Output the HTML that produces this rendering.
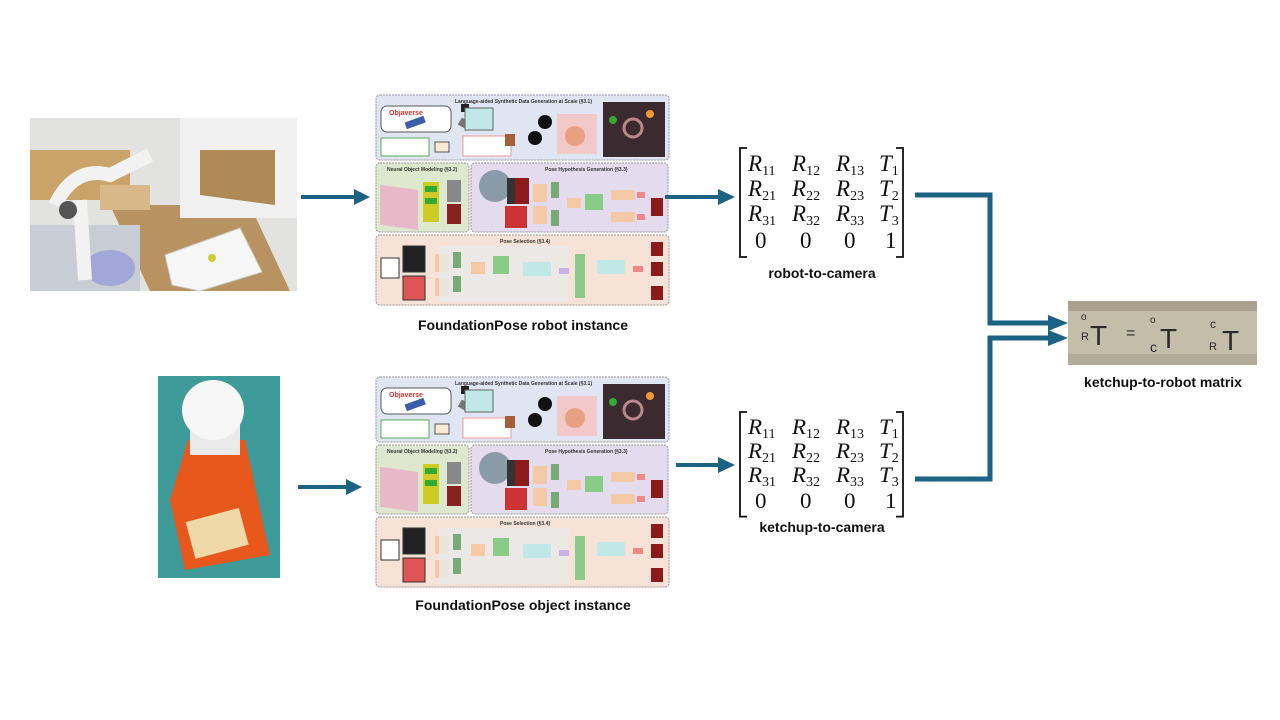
<!DOCTYPE html>
<html><head><meta charset="utf-8"><style>
html,body{margin:0;padding:0;background:#fff;width:1280px;height:720px;overflow:hidden}
svg{display:block}
.lbl{font-family:"Liberation Sans",sans-serif;font-weight:bold;font-size:14px;fill:#111}
.m{font-family:"Liberation Serif",serif;font-size:23px;fill:#111}
.i{font-style:italic}
.s{font-size:14px;font-style:normal}
.t{font-family:"Liberation Sans",sans-serif;font-size:5px;fill:#333;font-weight:bold}
.h{font-family:"Liberation Sans",sans-serif;fill:#2a2a2a}
</style></head><body>
<svg width="1280" height="720" viewBox="0 0 1280 720" xmlns="http://www.w3.org/2000/svg">
<defs>
<g id="diag">
  <rect x="0" y="0" width="295" height="212" fill="#fafafa"/>
  <rect x="1" y="1" width="293" height="65" rx="4" fill="#dfe5f3" stroke="#999" stroke-dasharray="2,1"/>
  <text class="t" x="80" y="9">Language-aided Synthetic Data Generation at Scale (§3.1)</text>
  <rect x="6" y="12" width="70" height="26" rx="6" fill="#fff" stroke="#555"/>
  <text x="14" y="21" font-family="Liberation Sans" font-size="7" font-weight="bold" fill="#d33">Objaverse</text>
  <rect x="30" y="25" width="20" height="7" fill="#3a5ea8" transform="rotate(-20 40 28)"/>
  <rect x="6" y="44" width="48" height="18" fill="#fff" stroke="#5a5"/>
  <rect x="60" y="48" width="14" height="10" fill="#fbe9d7" stroke="#555"/>
  <rect x="86" y="10" width="8" height="8" fill="#222"/>
  <rect x="84" y="26" width="12" height="8" fill="#777" transform="rotate(30 90 30)"/>
  <rect x="90" y="14" width="28" height="22" fill="#bfe8e6" stroke="#666"/>
  <rect x="88" y="42" width="48" height="20" fill="#fff" stroke="#e99"/>
  <rect x="130" y="40" width="10" height="12" fill="#a5603a"/>
  <circle cx="170" cy="28" r="7" fill="#111"/><circle cx="160" cy="44" r="7" fill="#111"/>
  <rect x="182" y="20" width="40" height="40" fill="#f2c8c8"/>
  <circle cx="200" cy="42" r="10" fill="#e9a080"/>
  <rect x="228" y="8" width="62" height="55" fill="#3b2a30"/>
  <circle cx="258" cy="34" r="9" fill="none" stroke="#b88" stroke-width="3"/>
  <circle cx="238" cy="26" r="4" fill="#3a3"/><circle cx="275" cy="20" r="4" fill="#e93"/>
  <rect x="1" y="69" width="93" height="69" rx="4" fill="#dde8cf" stroke="#999" stroke-dasharray="2,1"/>
  <text class="t" x="12" y="77">Neural Object Modeling (§3.2)</text>
  <rect x="5" y="90" width="38" height="40" fill="#e8b8c8" transform="skewY(8)"/>
  <rect x="48" y="88" width="16" height="40" fill="#cc2"/>
  <rect x="50" y="92" width="12" height="6" fill="#3a3"/><rect x="50" y="104" width="12" height="6" fill="#3a3"/>
  <rect x="72" y="86" width="14" height="22" fill="#888"/><rect x="72" y="110" width="14" height="20" fill="#822"/>
  <rect x="96" y="69" width="197" height="69" rx="4" fill="#e4dcee" stroke="#999" stroke-dasharray="2,1"/>
  <text class="t" x="170" y="77">Pose Hypothesis Generation (§3.3)</text>
  <circle cx="120" cy="92" r="16" fill="#8a9aa8"/>
  <rect x="132" y="84" width="18" height="26" fill="#333"/><rect x="140" y="84" width="14" height="26" fill="#8b1a1a"/>
  <rect x="130" y="112" width="22" height="22" fill="#c33"/>
  <rect x="158" y="90" width="14" height="18" fill="#f5c9a6"/><rect x="158" y="112" width="14" height="18" fill="#f5c9a6"/>
  <rect x="176" y="88" width="8" height="16" fill="#7a7"/><rect x="176" y="116" width="8" height="16" fill="#7a7"/>
  <rect x="192" y="104" width="14" height="10" fill="#f5c9a6"/>
  <rect x="210" y="100" width="18" height="16" fill="#8c8"/>
  <rect x="236" y="96" width="24" height="10" fill="#f5c9a6"/><rect x="236" y="118" width="24" height="10" fill="#f5c9a6"/>
  <rect x="262" y="98" width="8" height="6" fill="#e88"/><rect x="262" y="120" width="8" height="6" fill="#e88"/>
  <rect x="276" y="104" width="12" height="18" fill="#8b1a1a"/>
  <rect x="1" y="141" width="293" height="70" rx="4" fill="#f6e2d6" stroke="#999" stroke-dasharray="2,1"/>
  <text class="t" x="125" y="149">Pose Selection (§3.4)</text>
  <rect x="6" y="164" width="18" height="20" fill="#fff" stroke="#333"/>
  <rect x="28" y="152" width="22" height="26" fill="#222" stroke="#333"/>
  <rect x="28" y="182" width="22" height="24" fill="#d55" stroke="#333"/>
  <rect x="60" y="160" width="14" height="18" fill="#f5c9a6"/><rect x="60" y="184" width="14" height="18" fill="#f5c9a6"/>
  <rect x="64" y="152" width="130" height="56" fill="#eaeaea" opacity="0.8"/>
  <rect x="78" y="158" width="8" height="16" fill="#7a7"/><rect x="78" y="182" width="8" height="16" fill="#7a7"/>
  <rect x="96" y="168" width="14" height="12" fill="#f5c9a6"/>
  <rect x="118" y="162" width="16" height="18" fill="#8c8"/>
  <rect x="148" y="168" width="28" height="14" fill="#bfe8e6"/>
  <rect x="184" y="174" width="10" height="6" fill="#c9b2e6"/>
  <rect x="200" y="160" width="10" height="44" fill="#8c8"/>
  <rect x="222" y="166" width="28" height="14" fill="#bfe8e6"/>
  <rect x="258" y="172" width="10" height="6" fill="#e88"/>
  <rect x="276" y="148" width="12" height="14" fill="#8b1a1a"/><rect x="276" y="168" width="12" height="14" fill="#8b1a1a"/><rect x="276" y="192" width="12" height="14" fill="#8b1a1a"/>
</g>
<g id="mat">
  <path d="M9 0 H2 V109 H9 M158 0 H165 V109 H158" fill="none" stroke="#111" stroke-width="1.8"/>
  <text class="m" y="23"><tspan class="i" x="10">R</tspan><tspan class="s" dy="4">11</tspan><tspan class="i" x="54" dy="-4">R</tspan><tspan class="s" dy="4">12</tspan><tspan class="i" x="98" dy="-4">R</tspan><tspan class="s" dy="4">13</tspan><tspan class="i" x="141" dy="-4">T</tspan><tspan class="s" dy="4">1</tspan></text>
  <text class="m" y="48"><tspan class="i" x="10">R</tspan><tspan class="s" dy="4">21</tspan><tspan class="i" x="54" dy="-4">R</tspan><tspan class="s" dy="4">22</tspan><tspan class="i" x="98" dy="-4">R</tspan><tspan class="s" dy="4">23</tspan><tspan class="i" x="141" dy="-4">T</tspan><tspan class="s" dy="4">2</tspan></text>
  <text class="m" y="73"><tspan class="i" x="10">R</tspan><tspan class="s" dy="4">31</tspan><tspan class="i" x="54" dy="-4">R</tspan><tspan class="s" dy="4">32</tspan><tspan class="i" x="98" dy="-4">R</tspan><tspan class="s" dy="4">33</tspan><tspan class="i" x="141" dy="-4">T</tspan><tspan class="s" dy="4">3</tspan></text>
  <text class="m" y="100"><tspan x="17">0</tspan><tspan x="62">0</tspan><tspan x="106">0</tspan><tspan x="147">1</tspan></text>
</g>
</defs>

<!-- robot photo -->
<rect x="30" y="118" width="267" height="173" fill="#e2e2e0"/>
<rect x="30" y="150" width="100" height="50" fill="#c9a36a"/>
<polygon points="110,205 250,205 290,291 150,291" fill="#b89260"/>
<rect x="180" y="118" width="117" height="100" fill="#f0f0f0"/>
<polygon points="200,150 275,150 275,205 200,195" fill="#b08a55"/>
<polygon points="165,255 240,228 262,272 200,291 172,285" fill="#f6f6f6" stroke="#ccc"/>
<circle cx="212" cy="258" r="4" fill="#cc3"/>
<rect x="30" y="225" width="110" height="66" fill="#c8ccd4"/>
<ellipse cx="110" cy="268" rx="25" ry="18" fill="#7a82dc" opacity="0.5"/>
<path d="M55 205 Q75 165 110 175 L150 155" stroke="#f2f2f2" stroke-width="14" fill="none"/>
<path d="M80 200 L85 280" stroke="#f2f2f2" stroke-width="14"/>
<circle cx="68" cy="210" r="9" fill="#555"/>
<rect x="100" y="185" width="50" height="25" fill="#d8b888"/>
<!-- ketchup photo -->
<rect x="158" y="376" width="122" height="202" fill="#3f9a9a"/>
<path d="M188 440 L245 440 L270 555 L185 570 L170 500 Z" fill="#e8571c"/>
<rect x="190" y="415" width="50" height="40" fill="#eaeaea"/>
<ellipse cx="213" cy="410" rx="31" ry="30" fill="#f6f6f6"/>
<rect x="190" y="515" width="55" height="38" fill="#f0d9a8" transform="rotate(-15 215 535)"/>

<use href="#diag" x="375" y="94"/>
<use href="#diag" x="375" y="376"/>

<text class="lbl" x="523" y="330" text-anchor="middle">FoundationPose robot instance</text>
<text class="lbl" x="523" y="610" text-anchor="middle">FoundationPose object instance</text>

<use href="#mat" x="738" y="148"/>
<use href="#mat" x="738" y="412" transform="translate(738 412) scale(1 0.96) translate(-738 -412)"/>
<text class="lbl" x="822" y="278" text-anchor="middle">robot-to-camera</text>
<text class="lbl" x="822" y="532" text-anchor="middle">ketchup-to-camera</text>

<g fill="#1b6283" stroke="#1b6283">
  <line x1="301" y1="197" x2="356" y2="197" stroke-width="4"/><polygon points="354,189 370,197 354,205" stroke="none"/>
  <line x1="298" y1="487" x2="348" y2="487" stroke-width="4"/><polygon points="346,479 362,487 346,495" stroke="none"/>
  <line x1="665" y1="197" x2="720" y2="197" stroke-width="4"/><polygon points="718,189 735,197 718,205" stroke="none"/>
  <line x1="676" y1="465" x2="720" y2="465" stroke-width="4"/><polygon points="718,457 735,465 718,473" stroke="none"/>
  <polyline points="915,195 990,195 990,323 1050,323" fill="none" stroke-width="5"/>
  <polygon points="1048,315 1068,323 1048,331" stroke="none"/>
  <polyline points="915,479 990,479 990,338 1050,338" fill="none" stroke-width="5"/>
  <polygon points="1048,330 1068,338 1048,346" stroke="none"/>
</g>

<!-- formula photo -->
<rect x="1068" y="301" width="189" height="64" fill="#c4bda9"/>
<rect x="1068" y="301" width="189" height="10" fill="#aaa28e"/>
<rect x="1068" y="354" width="189" height="11" fill="#b2ab98"/>
<text class="h" x="1090" y="345" font-size="28">T</text>
<text class="h" x="1126" y="338" font-size="16">=</text>
<text class="h" x="1160" y="348" font-size="28">T</text>
<text class="h" x="1222" y="350" font-size="28">T</text>
<text class="h" x="1081" y="320" font-size="10">o</text>
<text class="h" x="1081" y="340" font-size="11">R</text>
<text class="h" x="1150" y="323" font-size="10">o</text>
<text class="h" x="1150" y="352" font-size="14">c</text>
<text class="h" x="1210" y="328" font-size="12">c</text>
<text class="h" x="1209" y="350" font-size="11">R</text>
<text class="lbl" x="1163" y="387" text-anchor="middle">ketchup-to-robot matrix</text>
</svg>
</body></html>
